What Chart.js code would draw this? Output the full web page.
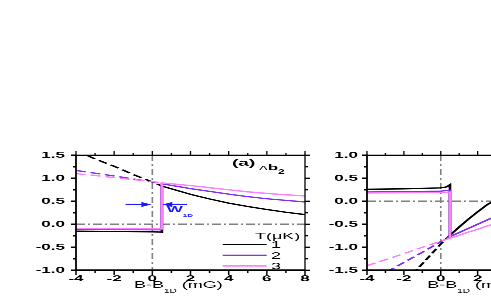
<!DOCTYPE html>
<html><head><meta charset="utf-8">
<script src="https://cdn.jsdelivr.net/npm/chart.js@4.4.1/dist/chart.umd.min.js"></script>
<style>
html,body{margin:0;padding:0;background:#fff;overflow:hidden;width:491px;height:300px;}
#wrap{position:absolute;left:0;top:0;width:700px;height:600px;transform:scaleY(0.5);transform-origin:0 0;}
canvas{position:absolute;top:0;}
#ca{left:0;} #cb{left:300px;}
</style></head><body>
<div id="wrap"><canvas id="ca" width="330" height="600"></canvas><canvas id="cb" width="300" height="600"></canvas></div>
<script>
// ---------- shared ticks / labels ----------
const xTicks = [-4, -2, 0, 2, 4, 6, 8];
const yTicksA = [-1.0, -0.5, 0.0, 0.5, 1.0, 1.5];
const yTicksB = [-1.5, -1.0, -0.5, 0.0, 0.5, 1.0];
const seriesLabels = ['1', '2', '3'];
const legendTitle = 'T(\u03bcK)';

// ---------- panel (a) data ----------
const aLowX  = [-4, -2, 0, 0.5];
const aLow1  = [-0.15, -0.158, -0.165, -0.17];
const aLow2  = [-0.115, -0.117, -0.119, -0.12];
const aLow3  = [-0.095, -0.097, -0.099, -0.10];
const aHighX = [0.5, 1, 1.5, 2, 2.5, 3, 4, 5, 6, 7, 8];
const aHigh1 = [0.83, 0.77, 0.71, 0.65, 0.60, 0.55, 0.46, 0.385, 0.32, 0.26, 0.21];
const aHigh2 = [0.88, 0.845, 0.81, 0.775, 0.745, 0.715, 0.655, 0.60, 0.555, 0.52, 0.485];
const aHigh3 = [0.90, 0.88, 0.86, 0.84, 0.82, 0.795, 0.75, 0.705, 0.67, 0.64, 0.615];
const aDashX = [-4, -3, -2, -1, 0, 0.5];
const aDash1 = [1.60, 1.42, 1.26, 1.08, 0.92, 0.83];
const aDash2 = [1.17, 1.11, 1.05, 0.985, 0.92, 0.88];
const aDash3 = [1.10, 1.06, 1.015, 0.97, 0.93, 0.90];

// ---------- panel (b) data ----------
const bLowX  = [-4, -2, 0, 0.3, 0.5];
const bLow1  = [0.26, 0.27, 0.29, 0.31, 0.36];
const bLow2  = [0.20, 0.21, 0.22, 0.23, 0.24];
const bLow3  = [0.18, 0.185, 0.19, 0.195, 0.20];
const bHighX = [0.5, 1, 1.5, 2, 2.5, 3, 4, 5, 6, 7, 8];
const bHigh1 = [-0.74, -0.56, -0.39, -0.23, -0.08, 0.04, 0.20, 0.31, 0.38, 0.43, 0.46];
const bHigh2 = [-0.77, -0.68, -0.59, -0.50, -0.41, -0.32, -0.16, -0.02, 0.10, 0.20, 0.28];
const bHigh3 = [-0.80, -0.74, -0.67, -0.61, -0.54, -0.48, -0.36, -0.25, -0.15, -0.06, 0.02];
const bDashX = [-4, -3, -2, -1, 0, 0.5];
const bDash1 = [-2.6, -2.2, -1.79, -1.36, -0.93, -0.74];
const bDash2 = [-1.77, -1.55, -1.33, -1.11, -0.88, -0.77];
const bDash3 = [-1.40, -1.27, -1.14, -1.00, -0.87, -0.80];

// ---------- styles ----------
const FONT = "'Liberation Sans', Arial, Helvetica, sans-serif";
const COLORS = ['#000000', '#8030f0', '#ff80ff'];
const GRAY = '#808080';
const BLUE = '#1a1aff';
const LW = 2.6;

function pts(xs, ys) { return xs.map((x, i) => ({x: x, y: ys[i]})); }
function solid(xl, yl, xh, yh, c) {
  return {data: pts(xl, yl).concat(pts(xh, yh)), borderColor: c, borderWidth: LW, pointRadius: 0, fill: false, tension: 0};
}
function dashed(xs, ys, c) {
  return {data: pts(xs, ys), borderColor: c, borderWidth: LW, borderDash: [10, 5], pointRadius: 0, fill: false, tension: 0};
}
function line(ctx, x1, y1, x2, y2, w) {
  ctx.lineWidth = w; ctx.beginPath(); ctx.moveTo(x1, y1); ctx.lineTo(x2, y2); ctx.stroke();
}
function rich(ctx, x, y, parts, color) {
  ctx.fillStyle = color; ctx.textAlign = 'left'; ctx.textBaseline = 'alphabetic';
  for (const p of parts) {
    ctx.font = p.font;
    ctx.fillText(p.t, x, y + (p.dy || 0));
    x += ctx.measureText(p.t).width;
  }
}
function mids(arr) { const r = []; for (let i = 0; i < arr.length - 1; i++) r.push((arr[i] + arr[i + 1]) / 2); return r; }

function framePlugin(yTicks) {
  return {
    id: 'frame',
    beforeDatasetsDraw(chart) {
      const {ctx, chartArea: a, scales: {x, y}} = chart;
      ctx.save();
      ctx.strokeStyle = GRAY;
      ctx.setLineDash([9, 3, 2, 3]);
      const y0 = y.getPixelForValue(0);
      line(ctx, a.left, y0, a.right, y0, 3);
      ctx.setLineDash([12, 6, 4, 6]);
      const x0 = x.getPixelForValue(0);
      line(ctx, x0, a.top, x0, a.bottom, 1.6);
      ctx.restore();
    },
    afterDatasetsDraw(chart) {
      const {ctx, chartArea: a, scales: {x, y}} = chart;
      ctx.save(); ctx.setLineDash([]); ctx.strokeStyle = '#000';
      line(ctx, a.left, a.top, a.right, a.top, 2.6);
      line(ctx, a.left, a.bottom, a.right, a.bottom, 3.6);
      line(ctx, a.left, a.top - 1.3, a.left, a.bottom + 1.8, 1.8);
      line(ctx, a.right, a.top - 1.3, a.right, a.bottom + 1.8, 1.3);
      for (const v of xTicks) {
        const p = x.getPixelForValue(v);
        line(ctx, p, a.bottom, p, a.bottom + 9, 1.5);
        line(ctx, p, a.top, p, a.top - 9, 1.3);
      }
      for (const v of mids(xTicks)) {
        const p = x.getPixelForValue(v);
        line(ctx, p, a.bottom, p, a.bottom + 5, 1.5);
        line(ctx, p, a.top, p, a.top - 5, 1.3);
      }
      for (const v of yTicks) {
        const p = y.getPixelForValue(v);
        line(ctx, a.left - 5, p, a.left, p, 3);
        line(ctx, a.right, p, a.right + 5, p, 2.6);
      }
      for (const v of mids(yTicks)) {
        const p = y.getPixelForValue(v);
        line(ctx, a.left - 3, p, a.left, p, 3);
        line(ctx, a.right, p, a.right + 3, p, 2.6);
      }
      ctx.restore();
    }
  };
}

function arrow(ctx, x1, x2, yy) {
  const d = Math.sign(x2 - x1);
  ctx.strokeStyle = BLUE; ctx.fillStyle = BLUE;
  line(ctx, x1, yy, x2 - d * 6, yy, 3);
  ctx.beginPath(); ctx.moveTo(x2, yy); ctx.lineTo(x2 - d * 10, yy - 5); ctx.lineTo(x2 - d * 10, yy + 5); ctx.closePath(); ctx.fill();
}

function xTitle(ctx, x0) {
  rich(ctx, x0, 574.6, [{t: 'B-B', font: '18px ' + FONT}, {t: '1D', font: '10px ' + FONT, dy: 10}, {t: ' (mG)', font: '18px ' + FONT}], '#000');
}

const notesA = {
  id: 'notesA',
  afterDraw(chart) {
    const {ctx, scales: {x, y}} = chart;
    ctx.save();
    const ya = y.getPixelForValue(0.43);
    arrow(ctx, x.getPixelForValue(-1.4), x.getPixelForValue(-0.05), ya);
    arrow(ctx, x.getPixelForValue(1.82), x.getPixelForValue(0.52), ya);
    rich(ctx, 166.7, 424, [{t: 'W', font: 'bold 17px ' + FONT}, {t: '1D', font: 'bold 8px ' + FONT, dy: 9}], BLUE);
    rich(ctx, 232, 331, [{t: '(a)', font: 'bold 19px ' + FONT}], '#000');
    rich(ctx, 259, 340, [{t: '\u0394', font: '13px ' + FONT}, {t: 'b', font: 'bold 17px ' + FONT}, {t: '2', font: 'bold 12px ' + FONT, dy: 7}], '#000');
    rich(ctx, 255, 478, [{t: legendTitle, font: '18px ' + FONT}], '#000');
    const ly = [488.6, 510, 531.4];
    for (let i = 0; i < 3; i++) {
      ctx.strokeStyle = COLORS[i];
      line(ctx, 222.7, ly[i], 266.7, ly[i], LW);
      rich(ctx, 271, ly[i] + 6.6, [{t: seriesLabels[i], font: '18px ' + FONT}], '#000');
    }
    xTitle(ctx, 134);
    ctx.restore();
  }
};
const notesB = {
  id: 'notesB',
  afterDraw(chart) {
    const {ctx} = chart;
    ctx.save();
    xTitle(ctx, 127.3);
    ctx.restore();
  }
};

function makePanel(id, datasets, yMin, yMax, yTicks, yWidth, yPad, padRight, notes) {
  return new Chart(document.getElementById(id), {
    type: 'line',
    data: {datasets: datasets},
    options: {
      responsive: false, animation: false, devicePixelRatio: 1, events: [],
      layout: {padding: {top: 310, right: padRight, left: 0, bottom: 0}},
      plugins: {legend: {display: false}, tooltip: {enabled: false}},
      scales: {
        x: {
          type: 'linear', min: -4, max: 8,
          afterBuildTicks: s => { s.ticks = xTicks.map(v => ({value: v})); },
          afterFit: s => { s.height = 60; },
          grid: {display: false, drawTicks: false}, border: {display: false},
          ticks: {autoSkip: false, maxRotation: 0, minRotation: 0, padding: 7, color: '#000',
                  font: {family: FONT, size: 17, weight: 'bold'}, callback: v => String(v)}
        },
        y: {
          type: 'linear', min: yMin, max: yMax,
          afterBuildTicks: s => { s.ticks = yTicks.map(v => ({value: v})); },
          afterFit: s => { s.width = yWidth; },
          grid: {display: false, drawTicks: false}, border: {display: false},
          ticks: {autoSkip: false, padding: yPad, color: '#000',
                  font: {family: FONT, size: 17, weight: 'bold'}, callback: v => Number(v).toFixed(1)}
        }
      }
    },
    plugins: [framePlugin(yTicks), notes]
  });
}

const dsA = [
  solid(aLowX, aLow3, aHighX, aHigh3, COLORS[2]),
  solid(aLowX, aLow2, aHighX, aHigh2, COLORS[1]),
  solid(aLowX, aLow1, aHighX, aHigh1, COLORS[0]),
  dashed(aDashX, aDash3, COLORS[2]),
  dashed(aDashX, aDash2, COLORS[1]),
  dashed(aDashX, aDash1, COLORS[0])
];
const dsB = [
  solid(bLowX, bLow3, bHighX, bHigh3, COLORS[2]),
  solid(bLowX, bLow2, bHighX, bHigh2, COLORS[1]),
  solid(bLowX, bLow1, bHighX, bHigh1, COLORS[0]),
  dashed(bDashX, bDash3, COLORS[2]),
  dashed(bDashX, bDash2, COLORS[1]),
  dashed(bDashX, bDash1, COLORS[0])
];

makePanel('ca', dsA, -1.0, 1.5, yTicksA, 76, 11, 25, notesA);
makePanel('cb', dsB, -1.5, 1.0, yTicksB, 67, 9, 10, notesB);
</script>
</body></html>
